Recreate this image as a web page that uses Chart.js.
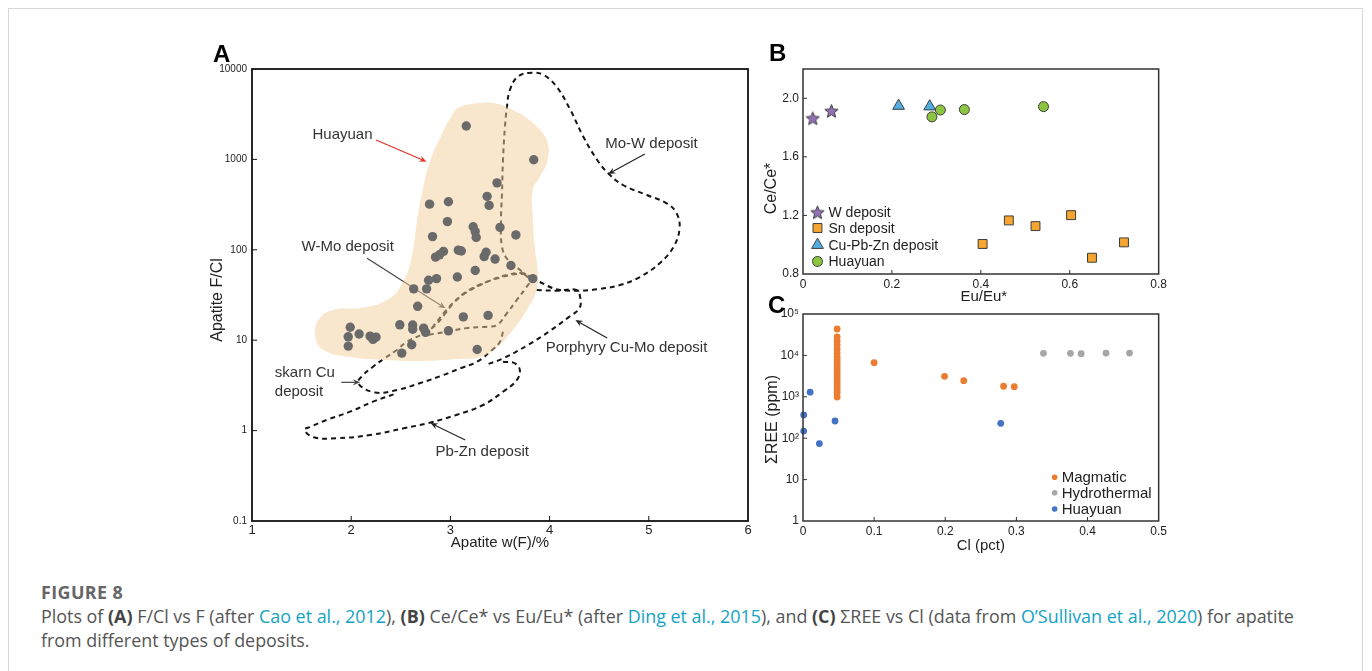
<!DOCTYPE html>
<html>
<head>
<meta charset="utf-8">
<script src="https://cdn.jsdelivr.net/npm/chart.js@4.4.1/dist/chart.umd.min.js"></script>
<style>
html,body{margin:0;padding:0;background:#fff;}
body{width:1372px;height:671px;position:relative;overflow:hidden;font-family:"Liberation Sans",Arial,sans-serif;}
#frame{position:absolute;left:8px;top:8px;width:1355px;height:720px;border:1.5px solid #d8d8d8;box-sizing:border-box;}
canvas{position:absolute;}
.pl{position:absolute;font:bold 24px/24px "Liberation Sans",Arial,sans-serif;color:#000;}
#cap{position:absolute;left:41px;top:580px;width:1310px;font-family:"Open Sans",sans-serif;font-size:17.9px;line-height:24px;color:#555;}
#cap .fig{font-weight:700;color:#666;letter-spacing:0.4px;}
#cap p{margin:0;}
#cap a{color:#12a3c3;text-decoration:none;}
#cap b{font-weight:700;color:#444;}
</style>
</head>
<body>
<div id="frame"></div>
<canvas id="chartA" width="560" height="530" style="left:200px;top:40px;width:560px;height:530px"></canvas>
<canvas id="chartB" width="420" height="285" style="left:750px;top:30px;width:420px;height:285px"></canvas>
<canvas id="chartC" width="420" height="275" style="left:750px;top:285px;width:420px;height:275px"></canvas>
<div class="pl" style="left:213px;top:42px">A</div>
<div class="pl" style="left:769px;top:41px">B</div>
<div class="pl" style="left:768px;top:293px">C</div>
<div id="cap">
  <div class="fig">FIGURE 8</div>
  <p>Plots of <b>(A)</b> F/Cl vs F (after <a>Cao et al., 2012</a>), <b>(B)</b> Ce/Ce* vs Eu/Eu* (after <a>Ding et al., 2015</a>), and <b>(C)</b> ΣREE vs Cl (data from <a>O’Sullivan et al., 2020</a>) for apatite<br>from different types of deposits.</p>
</div>
<script>
/* ═══ Panel A : apatite F/Cl vs w(F) ═══ */
const A_X_TICKS = [1, 2, 3, 4, 5, 6];
const A_Y_TICKS = [0.1, 1, 10, 100, 1000, 10000];
const A_Y_LABELS = ['0.1', '1', '10', '100', '1000', '10000'];

const huayuanF   = [3.16, 3.84, 3.47, 3.37, 3.39, 2.79, 2.98, 2.97, 3.23, 3.25, 3.26, 3.50, 3.66, 2.82, 2.85, 2.89, 2.93, 3.08, 3.11, 3.36,
                    3.34, 3.45, 3.61, 3.25, 3.07, 2.86, 2.78, 2.76, 2.63, 3.83, 2.67, 3.13, 3.38, 2.49, 2.62, 2.62, 2.73, 2.75, 2.98, 1.99,
                    1.97, 2.08, 1.97, 2.19, 2.22, 2.25, 2.61, 2.51, 3.27];
const huayuanFCl = [2340, 990, 550, 390, 310, 320, 340, 205, 180, 159, 137, 177, 146, 140, 83, 88, 96, 99, 97, 94,
                    84, 79, 67, 59, 50, 48, 46, 37, 37, 48, 23.7, 18.1, 18.8, 14.8, 14.7, 13.2, 13.6, 12.2, 12.7, 13.9,
                    10.9, 11.7, 8.6, 11.1, 10.2, 10.8, 8.9, 7.2, 7.9];

// field outlines as [w(F) %, F/Cl]
const huayuanField = [[3.27,4200],[3.10,3800],[3.03,3260],[2.90,1770],[2.79,912],[2.72,458],[2.66,198],[2.61,83],[2.52,43],
  [2.36,27.9],[2.09,22.7],[1.82,21.6],[1.67,16.7],[1.64,10.8],[1.72,7.8],[1.99,6.5],[2.39,6.0],[2.72,5.9],[3.07,6.2],[3.30,6.5],
  [3.47,8.4],[3.63,13],[3.77,21.6],[3.87,36],[3.88,60],[3.85,107],[3.83,231],[3.83,458],[3.90,638],[3.98,985],[3.97,1640],
  [3.83,2530],[3.63,3520],[3.43,4200],[3.27,4200]];
const moWField = [[3.90,44],[4.07,36.6],[4.27,35.3],[4.48,36.6],[4.71,40.8],[4.91,50],[5.11,71],[5.25,108],[5.31,173],[5.28,254],
  [5.18,327],[4.98,404],[4.74,521],[4.59,702],[4.48,985],[4.34,1780],[4.21,3520],[4.07,6370],[3.94,8590],[3.82,9100],[3.68,8230],
  [3.60,5870],[3.57,3830],[3.55,2300],[3.53,985],[3.52,422],[3.51,214],[3.52,108],[3.58,77],[3.70,60],[3.80,48],[3.90,44]];
const wMoField = [[2.76,11.4],[2.96,21.6],[3.10,30.3],[3.30,40.8],[3.53,50.4],[3.74,54],[3.82,48.4],[3.77,39.1],[3.67,27.9],
  [3.57,19.9],[3.47,14.7],[3.37,14.1],[3.16,13.6],[2.96,12.4],[2.76,11.4]];
const skarnCuEdge = [[3.53,12.4],[3.50,9.6],[3.42,7.8],[3.27,5.78],[3.10,4.89],[2.93,4.12],[2.69,3.34],[2.46,2.81],[2.24,2.64],
  [2.07,3.34],[2.12,4.12],[2.22,5.09],[2.34,6.35],[2.46,7.8],[2.56,9.6],[2.73,11.9],[2.85,14.7],[2.95,19.9],[3.03,25.6],
  [3.16,34.4],[3.37,44.4],[3.57,52.6],[3.74,55],[3.82,48.4]];
const porphyryEdge = [[3.87,35.9],[4.07,35.3],[4.27,35.9],[4.31,29.1],[4.30,22.5],[4.19,17.9],[4.00,12.6],[3.79,8.96],[3.54,6.35],[3.35,5.3]];
const pbZnEdge = [[3.53,5.78],[3.65,5.55],[3.70,4.68],[3.67,3.63],[3.53,2.69],[3.33,1.92],[3.06,1.49],[2.79,1.22],[2.53,1.06],
  [2.19,0.893],[1.85,0.822],[1.62,0.843],[1.53,1.02],[1.59,1.10],[1.75,1.31],[1.99,1.62],[2.22,2.09],[2.46,2.59]];

/* ═══ Panel B : Ce/Ce* vs Eu/Eu* ═══ */
const B_X_TICKS = [0, 0.2, 0.4, 0.6, 0.8];
const B_X_LABELS = ['0', '0.2', '0.4', '0.6', '0.8'];
const B_Y_TICKS = [0.8, 1.2, 1.6, 2.0];
const B_Y_LABELS = ['0.8', '1.2', '1.6', '2.0'];
const wEu = [0.022, 0.064],                              wCe = [1.866, 1.916];
const snEu = [0.404, 0.463, 0.523, 0.603, 0.650, 0.722], snCe = [1.005, 1.166, 1.127, 1.202, 0.911, 1.016];
const cuEu = [0.215, 0.285],                             cuCe = [1.948, 1.944];
const hyEu = [0.290, 0.309, 0.363, 0.541],               hyCe = [1.873, 1.920, 1.923, 1.943];

/* ═══ Panel C : ΣREE vs Cl ═══ */
const C_X_TICKS = [0, 0.1, 0.2, 0.3, 0.4, 0.5];
const C_X_LABELS = ['0', '0.1', '0.2', '0.3', '0.4', '0.5'];
const C_Y_TICKS = [1, 10, 100, 1000, 10000, 100000];
const C_Y_LABELS = ['1', '10', '10²', '10³', '10⁴', '10⁵'];
const magCl  = [0.048, 0.048, 0.048, 0.048, 0.048, 0.048, 0.048, 0.048, 0.048, 0.048, 0.048, 0.048, 0.048, 0.048, 0.048,
                0.048, 0.048, 0.048, 0.048, 0.048, 0.100, 0.199, 0.226, 0.282, 0.297];
const magREE = [43400, 27800, 22300, 17800, 14300, 11400, 9150, 7740, 6550, 5540, 4690, 3970, 3360, 2850, 2410,
                2040, 1730, 1460, 1240, 990, 6670, 3130, 2450, 1800, 1750];
const hydCl  = [0.338, 0.376, 0.391, 0.426, 0.459];
const hydREE = [11200, 11200, 11000, 11400, 11400];
const huaCl  = [0.010, 0.001, 0.001, 0.023, 0.045, 0.278];
const huaREE = [1290, 363, 149, 74, 260, 229];

/* ── helpers ── */
const FONT = '"Liberation Sans", Arial, sans-serif';
Chart.defaults.font.family = FONT;
const pts = (xs, ys) => xs.map((x, i) => ({x, y: ys[i]}));
const pairs = arr => arr.map(([x, y]) => ({x, y}));

function axis(o) {
  return {
    type: o.type || 'linear', min: o.min, max: o.max,
    grid: {display: false, drawTicks: false}, border: {display: false},
    afterBuildTicks: s => { s.ticks = o.ticks.map(v => ({value: v})); },
    afterFit: s => { if (s.isHorizontal()) s.height = o.size; else s.width = o.size; },
    ticks: {
      autoSkip: false, maxRotation: 0, color: '#222', padding: o.pad,
      font: {family: FONT, size: o.font},
      callback: v => o.labels ? o.labels[o.ticks.indexOf(v)] : String(v)
    }
  };
}

function starImage(r, fill, stroke) {
  const c = document.createElement('canvas');
  const s = Math.ceil(r * 2 + 3);
  c.width = c.height = s;
  const g = c.getContext('2d');
  g.beginPath();
  for (let i = 0; i < 10; i++) {
    const rr = i % 2 ? r * 0.45 : r, a = -Math.PI / 2 + i * Math.PI / 5;
    g.lineTo(s / 2 + rr * Math.cos(a), s / 2 + 1 + rr * Math.sin(a));
  }
  g.closePath();
  g.fillStyle = fill; g.fill();
  g.lineWidth = 1; g.strokeStyle = stroke; g.stroke();
  return c;
}

function arrow(ctx, x1, y1, x2, y2, color) {
  const a = Math.atan2(y2 - y1, x2 - x1), h = 8;
  ctx.save();
  ctx.strokeStyle = color; ctx.fillStyle = color; ctx.lineWidth = 1.2;
  ctx.beginPath(); ctx.moveTo(x1, y1); ctx.lineTo(x2 - Math.cos(a) * h * 0.6, y2 - Math.sin(a) * h * 0.6); ctx.stroke();
  ctx.beginPath(); ctx.moveTo(x2, y2);
  ctx.lineTo(x2 - h * Math.cos(a - 0.4), y2 - h * Math.sin(a - 0.4));
  ctx.lineTo(x2 - h * 0.6 * Math.cos(a), y2 - h * 0.6 * Math.sin(a));
  ctx.lineTo(x2 - h * Math.cos(a + 0.4), y2 - h * Math.sin(a + 0.4));
  ctx.closePath(); ctx.fill();
  ctx.restore();
}

function marker(ctx, ds, x, y, r) {
  const st = ds.pointStyle;
  if (st instanceof HTMLCanvasElement) { ctx.drawImage(st, x - st.width / 2, y - st.height / 2); return; }
  ctx.beginPath();
  if (st === 'rect') { const s = r * Math.SQRT1_2; ctx.rect(x - s, y - s, 2 * s, 2 * s); }
  else if (st === 'triangle') { ctx.moveTo(x, y - r); ctx.lineTo(x + r * 0.866, y + r / 2); ctx.lineTo(x - r * 0.866, y + r / 2); ctx.closePath(); }
  else ctx.arc(x, y, r, 0, Math.PI * 2);
  ctx.fillStyle = ds.backgroundColor; ctx.fill();
  if (ds.borderWidth) { ctx.lineWidth = ds.borderWidth; ctx.strokeStyle = ds.borderColor; ctx.stroke(); }
}

/* frame, inward ticks, titles, notes, legend */
function decor(cfg) {
  return {
    id: 'decor',
    beforeDatasetsDraw(chart) {
      const {ctx, scales: {x, y}} = chart;
      (cfg.arrows || []).forEach(a => arrow(ctx,
        x.getPixelForValue(a.from[0]), y.getPixelForValue(a.from[1]),
        x.getPixelForValue(a.to[0]), y.getPixelForValue(a.to[1]), a.color));
    },
    afterDatasetsDraw(chart) {
      const {ctx, chartArea: c, scales: {x, y}} = chart;
      ctx.save();
      ctx.strokeStyle = cfg.boxColor; ctx.lineWidth = cfg.boxWidth;
      ctx.strokeRect(c.left, c.top, c.right - c.left, c.bottom - c.top);
      ctx.lineWidth = 1;
      ctx.beginPath();
      x.ticks.forEach(t => { const p = x.getPixelForValue(t.value); if (p > c.left + 2 && p < c.right - 2) { ctx.moveTo(p, c.bottom); ctx.lineTo(p, c.bottom - cfg.tick); } });
      y.ticks.forEach(t => { const p = y.getPixelForValue(t.value); if (p > c.top + 2 && p < c.bottom - 2) { ctx.moveTo(c.left, p); ctx.lineTo(c.left + cfg.tick, p); } });
      ctx.stroke();

      ctx.fillStyle = '#222'; ctx.textAlign = 'center'; ctx.textBaseline = 'middle';
      ctx.font = cfg.xTitle.size + 'px ' + FONT;
      ctx.fillText(cfg.xTitle.text, (c.left + c.right) / 2 + (cfg.xTitle.dx || 0), c.bottom + cfg.xTitle.dy);
      ctx.save();
      ctx.translate(c.left + cfg.yTitle.dx, (c.top + c.bottom) / 2 + (cfg.yTitle.dy || 0));
      ctx.rotate(-Math.PI / 2);
      ctx.font = cfg.yTitle.size + 'px ' + FONT;
      ctx.fillText(cfg.yTitle.text, 0, 0);
      ctx.restore();

      ctx.textAlign = 'left';
      (cfg.notes || []).forEach(n => {
        ctx.font = '15px ' + FONT; ctx.fillStyle = '#333';
        ctx.fillText(n.text, x.getPixelForValue(n.at[0]), y.getPixelForValue(n.at[1]));
      });

      if (cfg.legend) {
        const L = cfg.legend;
        const x0 = L.fromRight ? c.right - L.dx : c.left + L.dx;
        chart.data.datasets.forEach((ds, i) => {
          const yy = c.bottom - L.rows[i];
          marker(ctx, ds, x0, yy, L.r || ds.pointRadius);
          ctx.fillStyle = '#222'; ctx.font = L.size + 'px ' + FONT; ctx.textBaseline = 'middle';
          ctx.fillText(ds.label, x0 + L.gap, yy + 1);
        });
      }
      ctx.restore();
    }
  };
}

const common = {
  responsive: false, animation: false, events: [],
  plugins: {legend: {display: false}, tooltip: {enabled: false}}
};

/* ── A ── */
const outline = data => ({
  label: 'field', data: pairs(data), showLine: true, fill: false, tension: 0.4,
  borderColor: '#151515', borderWidth: 2, borderDash: [5, 4], pointRadius: 0, order: 3
});
new Chart(document.getElementById('chartA'), {
  type: 'scatter',
  data: {
    datasets: [
      {label: 'Huayuan', data: pts(huayuanF, huayuanFCl), pointRadius: 4.7, backgroundColor: '#6a6a6a', borderWidth: 0, order: 0},
      {label: 'Huayuan field', data: pairs(huayuanField), showLine: true, fill: 'shape', tension: 0.45,
       backgroundColor: 'rgba(241,206,156,0.5)', borderWidth: 0, pointRadius: 0, order: 1},
      outline(moWField), outline(wMoField), outline(skarnCuEdge), outline(porphyryEdge), outline(pbZnEdge)
    ]
  },
  options: {
    ...common,
    layout: {padding: {top: 29, right: 12, left: 0, bottom: 0}},
    scales: {
      x: axis({min: 1, max: 6, ticks: A_X_TICKS, size: 49, font: 13, pad: 2}),
      y: axis({type: 'logarithmic', min: 0.1, max: 10000, ticks: A_Y_TICKS, labels: A_Y_LABELS, size: 52, font: 10, pad: 5})
    }
  },
  plugins: [decor({
    boxColor: '#111', boxWidth: 1.8, tick: 5,
    xTitle: {text: 'Apatite w(F)/%', size: 15, dy: 22},
    yTitle: {text: 'Apatite F/Cl', size: 16, dx: -34, dy: 5},
    notes: [
      {text: 'Huayuan', at: [1.61, 1860]},
      {text: 'Mo-W deposit', at: [4.56, 1480]},
      {text: 'W-Mo deposit', at: [1.50, 108]},
      {text: 'Porphyry Cu-Mo deposit', at: [3.96, 8.15]},
      {text: 'skarn Cu', at: [1.23, 4.37]},
      {text: 'deposit', at: [1.23, 2.69]},
      {text: 'Pb-Zn deposit', at: [2.85, 0.585]}
    ],
    arrows: [
      {from: [2.25, 1640], to: [2.76, 944], color: '#e3342a'},
      {from: [4.96, 1150], to: [4.59, 689], color: '#222'},
      {from: [2.16, 80.5], to: [2.95, 22.5], color: '#444'},
      {from: [4.58, 10.6], to: [4.26, 16.7], color: '#222'},
      {from: [1.90, 3.42], to: [2.09, 3.42], color: '#444'},
      {from: [3.15, 0.787], to: [2.80, 1.21], color: '#222'}
    ]
  })]
});

/* ── B ── */
const starImg = starImage(7, '#9370b4', '#3d3d3d');
new Chart(document.getElementById('chartB'), {
  type: 'scatter',
  data: {
    datasets: [
      {label: 'W deposit', data: pts(wEu, wCe), pointStyle: starImg, pointRadius: 7, backgroundColor: '#9370b4', borderColor: '#3d3d3d', borderWidth: 1},
      {label: 'Sn deposit', data: pts(snEu, snCe), pointStyle: 'rect', pointRadius: 6.3, backgroundColor: '#f6a62e', borderColor: '#3d3d3d', borderWidth: 1},
      {label: 'Cu-Pb-Zn deposit', data: pts(cuEu, cuCe), pointStyle: 'triangle', pointRadius: 6.8, backgroundColor: '#52aee2', borderColor: '#3d3d3d', borderWidth: 1},
      {label: 'Huayuan', data: pts(hyEu, hyCe), pointStyle: 'circle', pointRadius: 5, backgroundColor: '#8cc540', borderColor: '#3d3d3d', borderWidth: 1}
    ]
  },
  options: {
    ...common,
    layout: {padding: {top: 39, right: 8, left: 0, bottom: 0}},
    scales: {
      x: axis({min: 0, max: 0.8, ticks: B_X_TICKS, labels: B_X_LABELS, size: 41, font: 12, pad: 3}),
      y: axis({min: 0.8, max: 2.2, ticks: B_Y_TICKS, labels: B_Y_LABELS, size: 53, font: 12, pad: 4})
    }
  },
  plugins: [decor({
    boxColor: '#333', boxWidth: 1.5, tick: 4,
    xTitle: {text: 'Eu/Eu*', size: 15, dy: 23, dx: 3},
    yTitle: {text: 'Ce/Ce*', size: 16, dx: -31, dy: 17},
    legend: {dx: 14.5, gap: 11, size: 14, rows: [62, 46, 29, 12.5]}
  })]
});

/* ── C ── */
new Chart(document.getElementById('chartC'), {
  type: 'scatter',
  data: {
    datasets: [
      {label: 'Magmatic', data: pts(magCl, magREE), pointRadius: 3.4, backgroundColor: '#ec7c30', borderWidth: 0, clip: false},
      {label: 'Hydrothermal', data: pts(hydCl, hydREE), pointRadius: 3.4, backgroundColor: '#a6a6a6', borderWidth: 0, clip: false},
      {label: 'Huayuan', data: pts(huaCl, huaREE), pointRadius: 3.4, backgroundColor: '#4472c4', borderWidth: 0, clip: false}
    ]
  },
  options: {
    ...common,
    layout: {padding: {top: 29, right: 9, left: 0, bottom: 0}},
    scales: {
      x: axis({min: 0, max: 0.5, ticks: C_X_TICKS, labels: C_X_LABELS, size: 39, font: 12, pad: 3}),
      y: axis({type: 'logarithmic', min: 1, max: 100000, ticks: C_Y_TICKS, labels: C_Y_LABELS, size: 53, font: 12, pad: 4})
    }
  },
  plugins: [decor({
    boxColor: '#333', boxWidth: 1.5, tick: 4,
    xTitle: {text: 'Cl (pct)', size: 15, dy: 25},
    yTitle: {text: 'ΣREE (ppm)', size: 16, dx: -30, dy: 2},
    legend: {fromRight: true, dx: 104, gap: 7, size: 15, r: 2.8, rows: [43.7, 28.3, 12]}
  })]
});
</script>
</body>
</html>
